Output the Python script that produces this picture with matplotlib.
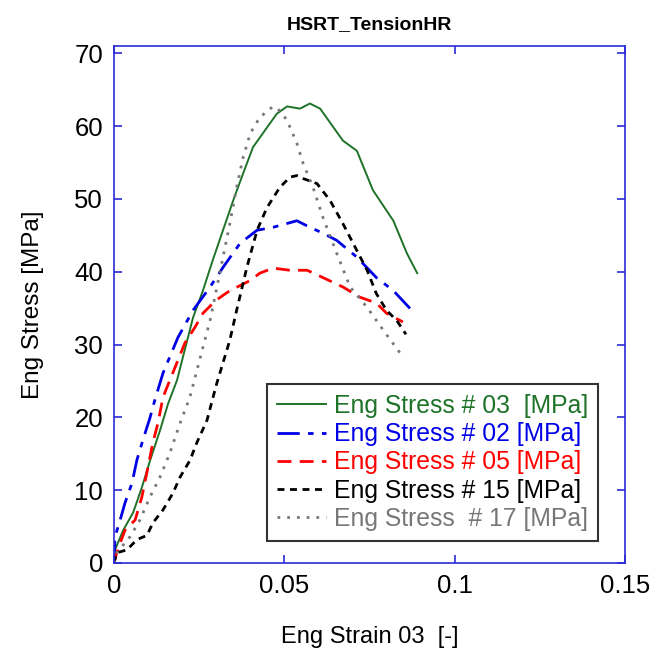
import numpy as np
import matplotlib
matplotlib.use('Agg')
import matplotlib.pyplot as plt

plt.rcParams['font.family'] = ['Liberation Sans', 'DejaVu Sans']

# Curves (strain [-], stress [MPa])
strain_03 = [0, 0.0003, 0.0027, 0.0056, 0.0082, 0.0106, 0.0135, 0.0159, 0.0185, 0.0232,
             0.0261, 0.029, 0.032, 0.035, 0.0379, 0.0408, 0.0449, 0.0478, 0.0508,
             0.0546, 0.0575, 0.0605, 0.0672, 0.0713, 0.076, 0.082, 0.086, 0.089]
stress_03 = [0, 1.8, 4.5, 6.9, 10.4, 14.1, 18.2, 21.9, 25.1, 33.7,
             37.4, 41.6, 45.7, 49.8, 53.5, 57.1, 59.8, 61.7, 62.7,
             62.4, 63.1, 62.4, 58.0, 56.6, 51.2, 47.0, 42.5, 39.8]

strain_02 = [0, 0.0003, 0.0018, 0.0032, 0.0053, 0.0067, 0.0085, 0.0106, 0.012, 0.0144,
             0.0188, 0.0232, 0.0282, 0.032, 0.037, 0.042, 0.0467, 0.0537, 0.0575,
             0.0613, 0.0654, 0.0713, 0.077, 0.082, 0.0874]
stress_02 = [0, 3.6, 5.9, 8.2, 11.0, 14.1, 16.9, 20.0, 22.4, 26.1,
             31.0, 34.7, 37.9, 40.6, 43.9, 45.7, 46.1, 47.0, 46.1,
             45.3, 44.3, 42.0, 39.2, 37.4, 34.7]

strain_05 = [0, 0.0008, 0.0032, 0.0062, 0.0082, 0.010, 0.0114, 0.0129, 0.0144, 0.0164,
             0.0208, 0.0238, 0.0261, 0.030, 0.034, 0.040, 0.0428, 0.0467, 0.0516,
             0.0567, 0.0613, 0.0672, 0.0722, 0.077, 0.080, 0.0848]
stress_05 = [0, 1.4, 4.5, 5.9, 9.1, 13.2, 16.5, 19.2, 22.8, 25.1,
             30.2, 32.4, 34.3, 36.1, 37.4, 38.8, 39.8, 40.5, 40.2,
             40.2, 39.2, 37.9, 36.5, 35.7, 34.3, 33.1]

strain_15 = [0, 0.0008, 0.0038, 0.0067, 0.0097, 0.0114, 0.0144, 0.0173, 0.0194, 0.0223,
             0.0243, 0.0273, 0.030, 0.034, 0.036, 0.039, 0.042, 0.0449, 0.0487,
             0.0517, 0.0537, 0.0555, 0.0596, 0.0634, 0.0672, 0.0713, 0.0743, 0.077,
             0.080, 0.083, 0.0857]
stress_15 = [0, 1.4, 1.8, 3.2, 3.8, 5.5, 7.3, 9.6, 11.8, 14.1,
             16.5, 19.6, 24.4, 30.6, 34.7, 40.6, 45.7, 48.8, 51.6,
             53.0, 53.2, 52.8, 52.1, 49.8, 46.6, 42.9, 40.2, 37.0,
             34.7, 33.3, 31.4]

strain_17 = [0, 0.0008, 0.0047, 0.0076, 0.0106, 0.0135, 0.0164, 0.0194, 0.0223, 0.0261,
             0.0282, 0.030, 0.032, 0.034, 0.036, 0.0379, 0.040, 0.0428, 0.0467,
             0.0487, 0.0508, 0.0537, 0.0555, 0.0584, 0.0613, 0.0654, 0.0693, 0.0743,
             0.079, 0.0848]
stress_17 = [0, 1.4, 3.6, 5.9, 9.1, 11.8, 15.1, 19.2, 22.8, 29.6,
             33.3, 37.4, 42.0, 46.6, 51.6, 55.7, 59.0, 61.2, 62.7,
             62.1, 60.8, 57.6, 54.9, 51.6, 47.5, 42.5, 37.9, 35.1,
             32.0, 28.3]

labels = ['Eng Stress # 03  [MPa]', 'Eng Stress # 02 [MPa]', 'Eng Stress # 05 [MPa]',
          'Eng Stress # 15 [MPa]', 'Eng Stress  # 17 [MPa]']

x_ticks = [0, 0.05, 0.1, 0.15]
x_tick_labels = ['0', '0.05', '0.1', '0.15']
y_ticks = [0, 10, 20, 30, 40, 50, 60, 70]

axis_blue = '#2b2bd6'

fig = plt.figure(figsize=(6.54, 6.59), dpi=100)
ax = fig.add_axes([0.1743, 0.1457, 0.7814, 0.7845])

ax.plot(strain_03, stress_03, color='#1e7328', lw=1.4, ls='-', label=labels[0])
ax.plot(strain_02, stress_02, color='#0000e6', lw=2.0, ls=(0, (8, 3, 2, 3)), label=labels[1])
ax.plot(strain_05, stress_05, color='#ff0000', lw=2.0, ls=(0, (5, 3)), label=labels[2])
ax.plot(strain_15, stress_15, color='black', lw=2.0, ls=(0, (2.5, 2)), label=labels[3])
ax.plot(strain_17, stress_17, color='#777777', lw=2.0, ls=(0, (1, 2.5)), label=labels[4])

ax.set_xlim(0, 0.15)
ax.set_ylim(0, 71)
ax.set_xticks(x_ticks)
ax.set_xticklabels(x_tick_labels)
ax.set_yticks(y_ticks)

for s in ax.spines.values():
    s.set_color(axis_blue)
    s.set_linewidth(1.2)
ax.tick_params(direction='in', length=6, width=1.2, color=axis_blue, labelsize=18.5,
               top=True, right=True, pad=8)

ax.set_title('HSRT_TensionHR', fontsize=14, fontweight='bold', pad=12)
ax.set_xlabel('Eng Strain 03  [-]', fontsize=17, labelpad=20)
ax.set_ylabel('Eng Stress [MPa]', fontsize=17.5, labelpad=22)

leg = ax.legend(loc='lower right', bbox_to_anchor=(0.947, 0.043), fontsize=17.8,
                labelcolor='linecolor', fancybox=False, framealpha=1,
                edgecolor='#333333', handlelength=2.0, handletextpad=0.3,
                labelspacing=0.17, borderpad=0.4, borderaxespad=0)
leg.get_frame().set_linewidth(1.5)

fig.savefig('out.png', dpi=100)
